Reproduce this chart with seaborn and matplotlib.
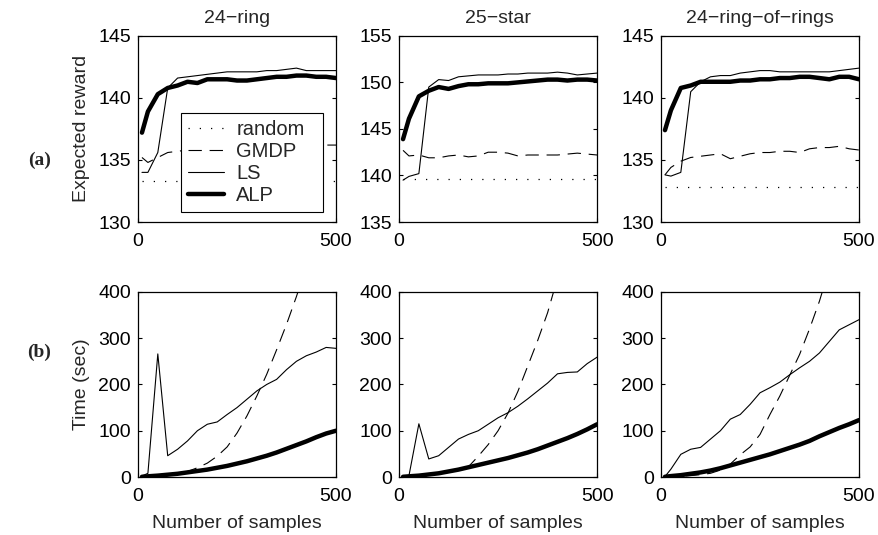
import numpy as np
import pandas as pd
import matplotlib
matplotlib.use("Agg")
import matplotlib.pyplot as plt
import seaborn as sns

samples = [10, 25, 50, 75, 100, 125, 150, 175, 200, 225, 250, 275, 300,
           325, 350, 375, 400, 425, 450, 475, 500]
titles = ["24\u2212ring", "25\u2212star", "24\u2212ring\u2212of\u2212rings"]

# expected reward (row a)
random_reward = [133.3, 139.6, 132.8]
gmdp_reward = [
    [135.2, 134.8, 135.2, 135.6, 135.7, 135.8, 135.8, 135.9, 135.9, 136.0, 136.0,
     136.0, 136.1, 136.1, 136.1, 136.1, 136.2, 136.2, 136.2, 136.2, 136.2],
    [142.7, 142.1, 142.2, 141.9, 141.9, 142.1, 142.2, 142.0, 142.1, 142.5, 142.5,
     142.4, 142.1, 142.2, 142.2, 142.2, 142.2, 142.3, 142.4, 142.3, 142.2],
    [133.8, 134.4, 134.9, 135.2, 135.3, 135.4, 135.5, 135.1, 135.3, 135.5, 135.6,
     135.6, 135.7, 135.7, 135.6, 135.9, 136.0, 136.0, 136.1, 135.9, 135.8],
]
ls_reward = [
    [134.0, 134.0, 135.6, 140.8, 141.6, 141.7, 141.8, 141.9, 142.0, 142.1, 142.1,
     142.1, 142.1, 142.2, 142.2, 142.3, 142.4, 142.2, 142.2, 142.2, 142.2],
    [139.5, 139.9, 140.2, 149.5, 150.3, 150.2, 150.6, 150.7, 150.8, 150.8, 150.8,
     150.9, 150.9, 151.0, 151.0, 151.0, 151.1, 151.0, 150.8, 150.9, 151.0],
    [133.8, 133.7, 134.0, 140.5, 141.3, 141.7, 141.8, 141.8, 142.0, 142.1, 142.2,
     142.2, 142.1, 142.1, 142.1, 142.1, 142.1, 142.1, 142.2, 142.3, 142.4],
]
alp_reward = [
    [137.2, 138.9, 140.3, 140.8, 141.0, 141.3, 141.2, 141.5, 141.5, 141.5, 141.4,
     141.4, 141.5, 141.6, 141.7, 141.7, 141.8, 141.8, 141.7, 141.7, 141.6],
    [143.9, 146.1, 148.5, 149.1, 149.5, 149.3, 149.6, 149.8, 149.8, 149.9, 149.9,
     149.9, 150.0, 150.1, 150.2, 150.3, 150.3, 150.2, 150.3, 150.3, 150.2],
    [137.4, 139.0, 140.8, 141.0, 141.3, 141.3, 141.3, 141.3, 141.4, 141.4, 141.5,
     141.5, 141.6, 141.6, 141.7, 141.7, 141.6, 141.5, 141.7, 141.7, 141.5],
]

# running time in seconds (row b)
gmdp_time = [
    [0.5, 1, 2, 4, 7, 12, 20, 30, 45, 65, 95, 132, 175, 222, 275, 330, 390, 455,
     530, 615, 710],
    [0.5, 1, 2, 4, 7, 11, 17, 22, 45, 70, 100, 138, 185, 240, 295, 355, 430, 500,
     590, 690, 800],
    [0.5, 1, 2, 3, 5, 8, 15, 28, 48, 65, 92, 135, 175, 220, 265, 320, 380, 450,
     530, 620, 720],
]
ls_time = [
    [2, 8, 266, 46, 60, 78, 100, 114, 119, 135, 150, 168, 186, 200, 211, 232, 250,
     262, 270, 280, 278],
    [0, 3, 115, 39, 46, 64, 82, 92, 100, 114, 128, 139, 153, 169, 186, 203, 223,
     226, 227, 245, 259],
    [1, 17, 49, 60, 64, 82, 100, 125, 135, 157, 182, 193, 205, 221, 236, 250, 268,
     293, 318, 329, 340],
]
alp_time = [
    [0.5, 1.5, 3, 5, 7, 10, 13, 16, 20, 24, 29, 34, 40, 46, 53, 61, 69, 77, 86,
     94, 100],
    [0.5, 1.5, 3, 5.5, 8, 12, 16, 21, 26, 31, 36, 41, 47, 53, 60, 68, 76, 84, 93,
     103, 114],
    [0.5, 2, 4, 7, 10, 14, 19, 25, 31, 37, 43, 49, 56, 63, 70, 78, 88, 97, 106,
     114, 123],
]

reward_ylim = [(130, 145), (135, 155), (130, 145)]

sns.set_style("ticks")
plt.rcParams['font.family'] = ['Liberation Sans', 'DejaVu Sans']
FS = 14

fig = plt.figure(figsize=(8.79, 5.35), dpi=100)
lefts = [0.157, 0.454, 0.752]
w = 0.2253
axes_a = [fig.add_axes([l, 0.585, w, 0.348]) for l in lefts]
axes_b = [fig.add_axes([l, 0.1084, w, 0.346]) for l in lefts]

dotted = (0, (1, 8))
dashed = (0, (12, 7))


def style_axis(ax):
    for s in ax.spines.values():
        s.set_visible(True)
        s.set_linewidth(0.9)
        s.set_color('black')
    ax.tick_params(direction='in', top=True, right=True, length=3, width=0.8,
                   labelsize=FS, colors='black')
    ax.tick_params(axis='x', pad=8)
    ax.tick_params(axis='y', pad=5)
    ax.set_xlim(0, 500)
    ax.set_xticks([0, 500])


x = np.array(samples)
for i in range(3):
    ax = axes_a[i]
    sns.lineplot(x=x, y=[random_reward[i]] * len(x), ax=ax, color='black',
                 linestyle=dotted, linewidth=0.9, label='random')
    sns.lineplot(x=x, y=gmdp_reward[i], ax=ax, color='black',
                 linestyle=dashed, linewidth=0.8, label='GMDP')
    sns.lineplot(x=x, y=ls_reward[i], ax=ax, color='black', linewidth=0.8,
                 label='LS')
    sns.lineplot(x=x, y=alp_reward[i], ax=ax, color='black', linewidth=3.2,
                 label='ALP')
    lo, hi = reward_ylim[i]
    ax.set_ylim(lo, hi)
    ax.set_yticks(np.arange(lo, hi + 1, 5))
    ax.set_title(titles[i], fontsize=FS, pad=9)
    ax.set_xlabel('')
    style_axis(ax)
    if i == 0:
        ax.set_ylabel('Expected reward', fontsize=FS, labelpad=6)
        leg = ax.legend(loc='lower left',
                        bbox_to_anchor=(0.217, 0.054, 0.717, 0.5),
                        mode='expand', fontsize=FS + 0.5, frameon=True,
                        fancybox=False, handlelength=1.8, borderpad=0.35,
                        labelspacing=0.15, handletextpad=0.6,
                        borderaxespad=0)
        leg.get_frame().set_edgecolor('black')
        leg.get_frame().set_linewidth(0.8)
        leg.get_frame().set_alpha(1)
    else:
        ax.get_legend().remove()

    ax = axes_b[i]
    sns.lineplot(x=x, y=gmdp_time[i], ax=ax, color='black',
                 linestyle=dashed, linewidth=0.8)
    sns.lineplot(x=x, y=ls_time[i], ax=ax, color='black', linewidth=0.8)
    sns.lineplot(x=x, y=alp_time[i], ax=ax, color='black', linewidth=3.2)
    ax.set_ylim(0, 400)
    ax.set_yticks([0, 100, 200, 300, 400])
    ax.set_xlabel('Number of samples', fontsize=FS, labelpad=7)
    style_axis(ax)
    if i == 0:
        ax.set_ylabel('Time (sec)', fontsize=FS, labelpad=6)

serif = ['Liberation Serif', 'DejaVu Serif']
fig.text(0.045, 0.70, '(a)', fontsize=FS, fontweight='bold', family=serif,
         ha='center', va='center')
fig.text(0.045, 0.342, '(b)', fontsize=FS, fontweight='bold', family=serif,
         ha='center', va='center')

fig.savefig('out.png', dpi=100, facecolor='white')
